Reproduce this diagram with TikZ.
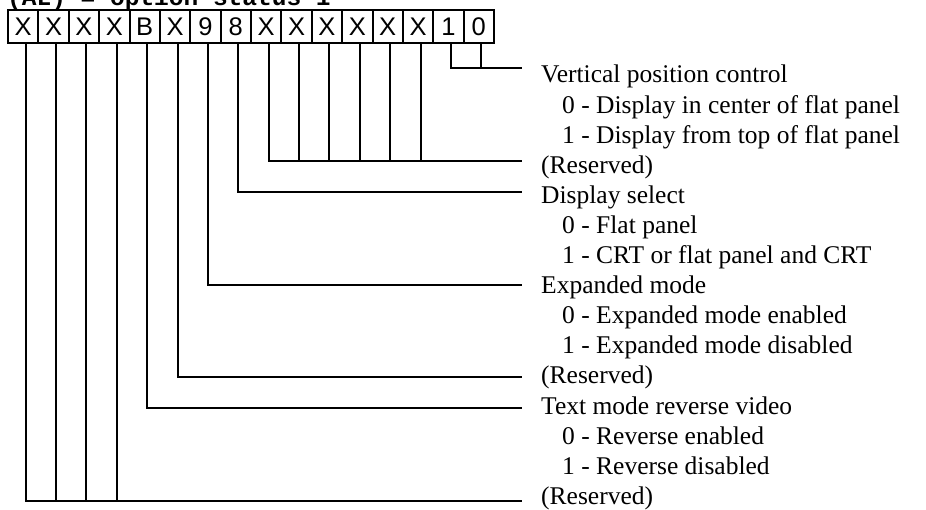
\documentclass[tikz,border=0pt]{standalone}
\usepackage{fontspec}
\setmainfont{Liberation Serif}
\newfontfamily\cellfont{Liberation Sans}
\newfontfamily\titlefont{Liberation Mono}
\usetikzlibrary{calc}
\begin{document}
\begin{tikzpicture}[x=1pt,y=-1pt,
  cell/.style={draw,line width=2pt,minimum width=30.375pt,minimum height=33pt,inner sep=0pt,
    font=\cellfont\fontsize{25.5}{25.5}\selectfont,text height=18pt,text depth=0pt},
  lbl/.style={anchor=base west,inner sep=0pt,font=\fontsize{25.5}{30}\selectfont},
  conn/.style={line width=2pt}]
\useasboundingbox (0,0) rectangle (926,510);
\node[anchor=base west,inner sep=0pt,font=\titlefont\bfseries\fontsize{24.5}{30}\selectfont] (title) at (7,6) {(AL) = option status 1};
% register cells, bits 15..0 from left to right
\foreach \t [count=\k from 0] in {X,X,X,X,B,X,9,8,X,X,X,X,X,X,1,0} {
  \node[cell] (c\k) at ({8+30.375*(\k+0.5)},26.5) {\t};
  \coordinate (p\k) at ($(c\k.south)+(2.5,0)$);
}
% label texts
\def\mx{541}
\def\sx{562}
\def\ls{30.1}
\node[lbl] (t0)  at (\mx,{83+\ls*0})  {Vertical position control};
\node[lbl] (t1)  at (\sx,{83+\ls*1})  {0 - Display in center of flat panel};
\node[lbl] (t2)  at (\sx,{83+\ls*2})  {1 - Display from top of flat panel};
\node[lbl] (t3)  at (\mx,{83+\ls*3})  {(Reserved)};
\node[lbl] (t4)  at (\mx,{83+\ls*4})  {Display select};
\node[lbl] (t5)  at (\sx,{83+\ls*5})  {0 - Flat panel};
\node[lbl] (t6)  at (\sx,{83+\ls*6})  {1 - CRT or flat panel and CRT};
\node[lbl] (t7)  at (\mx,{83+\ls*7})  {Expanded mode};
\node[lbl] (t8)  at (\sx,{83+\ls*8})  {0 - Expanded mode enabled};
\node[lbl] (t9)  at (\sx,{83+\ls*9})  {1 - Expanded mode disabled};
\node[lbl] (t10) at (\mx,{83+\ls*10}) {(Reserved)};
\node[lbl] (t11) at (\mx,{83+\ls*11}) {Text mode reverse video};
\node[lbl] (t12) at (\sx,{83+\ls*12}) {0 - Reverse enabled};
\node[lbl] (t13) at (\sx,{83+\ls*13}) {1 - Reverse disabled};
\node[lbl] (t14) at (\mx,{83+\ls*14}) {(Reserved)};
% connector ends
\foreach \i in {0,3,4,7,10,11,14} {
  \coordinate (e\i) at (522,{68.5+30.9*\i});
}
% bits 1-0
\draw[conn] (p14) |- (e0);
\draw[conn] (p15) -- (p15 |- e0);
% bits 7-2
\draw[conn] (p8) |- (e3);
\foreach \k in {9,...,13} { \draw[conn] (p\k) -- (p\k |- e3); }
% bit 8
\draw[conn] (p7) |- (e4);
% bit 9
\draw[conn] (p6) |- (e7);
% bit 10
\draw[conn] (p5) |- (e10);
% bit 11
\draw[conn] (p4) |- (e11);
% bits 15-12
\draw[conn] (p0) |- (e14);
\foreach \k in {1,2,3} { \draw[conn] (p\k) -- (p\k |- e14); }
\end{tikzpicture}
\end{document}
